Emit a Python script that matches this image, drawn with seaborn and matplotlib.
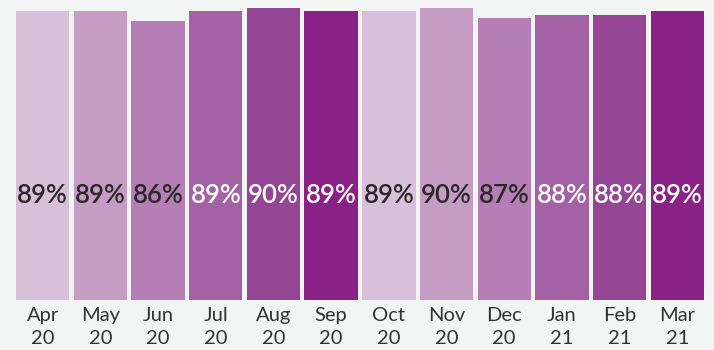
import matplotlib
matplotlib.use("Agg")
import matplotlib.pyplot as plt
import seaborn as sns
import pandas as pd

months = ["Apr\n20", "May\n20", "Jun\n20", "Jul\n20", "Aug\n20", "Sep\n20",
          "Oct\n20", "Nov\n20", "Dec\n20", "Jan\n21", "Feb\n21", "Mar\n21"]
values = [89, 89, 86, 89, 90, 89, 89, 90, 87, 88, 88, 89]
shades = ["#d8bfda", "#c49cc4", "#b47fb4", "#a262a4", "#944593", "#892187"]
text_colors = ["#2b2628", "#2b2628", "#2b2628", "#ffffff", "#ffffff", "#ffffff"]

bg = "#f3f5f4"
sns.set_theme(style="white")
plt.rcParams["font.family"] = ["Lato", "DejaVu Sans"]

df = pd.DataFrame({"month": months, "value": values})
palette = {m: shades[i % 6] for i, m in enumerate(months)}

fig = plt.figure(figsize=(7.14, 3.5), dpi=100, facecolor=bg)
ax = fig.add_axes([16/714, 50/350, 688/714, 300/350])
ax.set_facecolor(bg)
sns.barplot(data=df, x="month", y="value", hue="month", palette=palette,
            width=0.925, legend=False, ax=ax, saturation=1, edgecolor="none",
            linewidth=0)

for i, v in enumerate(values):
    ax.text(i, 32.2, f"{v}%", ha="center", va="center",
            fontsize=18.5, fontweight="semibold", color=text_colors[i % 6])

ax.set_xlim(-0.4625, 11.4625)
ax.set_ylim(0, 92.5)
ax.set_yticks([])
ax.set_xlabel("")
ax.set_ylabel("")
for s in ax.spines.values():
    s.set_visible(False)
ax.tick_params(axis="x", length=0, pad=5, labelsize=14.5, labelcolor="#333333")
for t in ax.get_xticklabels():
    t.set_linespacing(1.45)

fig.savefig("out.png", dpi=100, facecolor=bg)
